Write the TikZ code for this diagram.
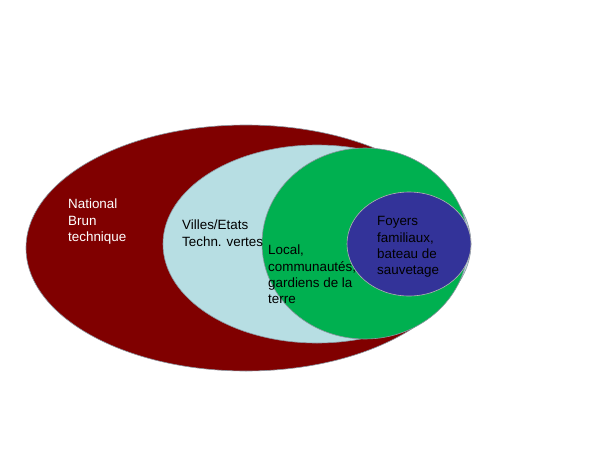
\documentclass[tikz,border=0pt]{standalone}
\usepackage{fontspec}
\setmainfont{Liberation Sans}
\definecolor{brunred}{RGB}{128,0,0}
\definecolor{paleblue}{RGB}{183,222,227}
\definecolor{leafgreen}{RGB}{0,176,80}
\definecolor{navyblue}{RGB}{51,51,153}
\definecolor{rimgray}{RGB}{140,150,160}
\begin{document}
\begin{tikzpicture}[x=1pt,y=-1pt,
  ring/.style={draw=rimgray,line width=0.6pt},
  lab/.style={anchor=north west,inner sep=0pt,align=left,font=\fontsize{13.4}{16.1}\selectfont}]
\useasboundingbox (0,0) rectangle (600,450);
\fill[white] (0,0) rectangle (600,450);
\path[ring,fill=brunred] (246,248) ellipse [x radius=220,y radius=123];
\node[lab,text=white] (national) at (68,199) {National\\Brun\\technique};
\path[ring,fill=paleblue] (317,244) ellipse [x radius=154,y radius=99];
\path[ring,fill=leafgreen] (365,243.5) ellipse [x radius=103,y radius=95.5];
\node[lab,text=black] (villes) at (182,220) {Villes/Etats\\Techn. vertes};
\node[lab,text=black] (local) at (268,245) {Local,\\communautés,\\gardiens de la\\terre};
\path[ring,draw=gray!60,fill=navyblue] (409,244) ellipse [x radius=62,y radius=52];
\node[lab,text=black] (foyers) at (377,216.5) {Foyers\\familiaux,\\bateau de\\sauvetage};
\end{tikzpicture}
\end{document}
